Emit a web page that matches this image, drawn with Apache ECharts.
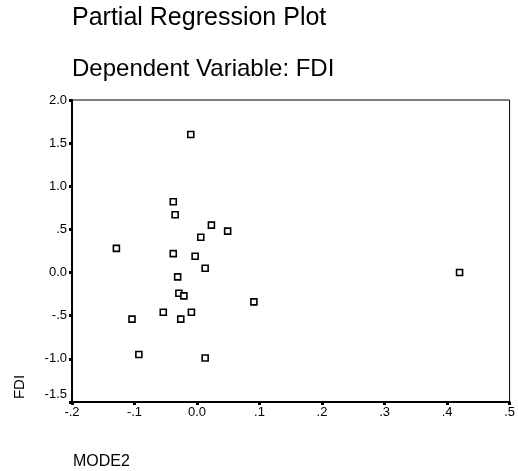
<!DOCTYPE html>
<html>
<head>
<meta charset="utf-8">
<script src="https://cdn.jsdelivr.net/npm/echarts@6/dist/echarts.min.js"></script>
<style>
html,body{margin:0;padding:0;background:#fff;}
#chart{width:518px;height:471px;}
</style>
</head>
<body>
<div id="chart"></div>
<script>
// Partial regression residuals: MODE2 (x) vs FDI (y)
var mode2 = [-0.010, -0.038, -0.035, 0.023, 0.049, 0.006, -0.129, -0.038, -0.003, 0.013, -0.031,
             -0.029, -0.021, 0.091, -0.054, -0.009, -0.104, -0.026, -0.093, 0.013, 0.420];
var fdi   = [1.60, 0.82, 0.67, 0.55, 0.48, 0.41, 0.28, 0.22, 0.19, 0.05, -0.05,
             -0.24, -0.27, -0.34, -0.46, -0.46, -0.54, -0.54, -0.95, -0.99, 0.00];
var xTickLabels = ['-.2', '-.1', '0.0', '.1', '.2', '.3', '.4', '.5'];
var yTickLabels = ['-1.5', '-1.0', '-.5', '0.0', '.5', '1.0', '1.5', '2.0'];
var titleText = 'Partial Regression Plot';
var subtitleText = 'Dependent Variable: FDI';
var xName = 'MODE2';
var yName = 'FDI';

var xMin = -0.2, xMax = 0.5, xStep = 0.1;
var yMin = -1.5, yMax = 2.0, yStep = 0.5;

var points = mode2.map(function (x, i) { return [x, fdi[i]]; });
var font = 'Liberation Sans, Arial, sans-serif';

var chart = echarts.init(document.getElementById('chart'), null, {renderer: 'canvas'});
chart.setOption({
  animation: false,
  backgroundColor: '#fff',
  title: [
    {text: titleText, left: 72, top: 6, padding: 0,
     textStyle: {fontFamily: font, fontSize: 25, fontWeight: 'normal', color: '#000'}},
    {text: subtitleText, left: 72, top: 57, padding: 0,
     textStyle: {fontFamily: font, fontSize: 24, fontWeight: 'normal', color: '#000'}}
  ],
  grid: {left: 72, right: 6, top: 100, bottom: 69, show: true, borderColor: '#000', borderWidth: 1, backgroundColor: 'transparent'},
  xAxis: {
    type: 'value', min: xMin, max: xMax, interval: xStep,
    name: xName, nameLocation: 'start', nameGap: -1,
    nameTextStyle: {fontFamily: font, fontSize: 16, color: '#000', align: 'left', verticalAlign: 'top', padding: [52, 0, 0, 0]},
    axisLine: {show: true, onZero: false, lineStyle: {color: '#000', width: 2}},
    axisTick: {show: true, length: 3, inside: false, lineStyle: {color: '#000', width: 3}},
    axisLabel: {margin: 4, fontFamily: font, fontSize: 13, color: '#000',
      formatter: function (v) { return xTickLabels[Math.round((v - xMin) / xStep)]; }},
    splitLine: {show: false}
  },
  yAxis: {
    type: 'value', min: yMin, max: yMax, interval: yStep,
    axisLine: {show: true, onZero: false, lineStyle: {color: '#000', width: 2}},
    axisTick: {show: true, length: 3, inside: false, lineStyle: {color: '#000', width: 3}},
    axisLabel: {margin: 5, fontFamily: font, fontSize: 13, color: '#000',
      formatter: function (v) {
        var i = Math.round((v - yMin) / yStep);
        return i === 0 ? '{lo|' + yTickLabels[i] + '}' : yTickLabels[i];
      },
      rich: {lo: {fontFamily: font, fontSize: 13, color: '#000', padding: [0, 0, 16, 0]}}},
    splitLine: {show: false}
  },
  graphic: [{
    type: 'text', x: 20, y: 387, rotation: Math.PI / 2,
    style: {text: yName, font: '15px ' + font, fill: '#000', textAlign: 'center', textVerticalAlign: 'middle'}
  }],
  series: [{
    type: 'scatter',
    data: points,
    symbol: 'rect',
    symbolSize: 6,
    itemStyle: {color: '#fff', borderColor: '#000', borderWidth: 1.6, opacity: 1}
  }]
});
</script>
</body>
</html>
